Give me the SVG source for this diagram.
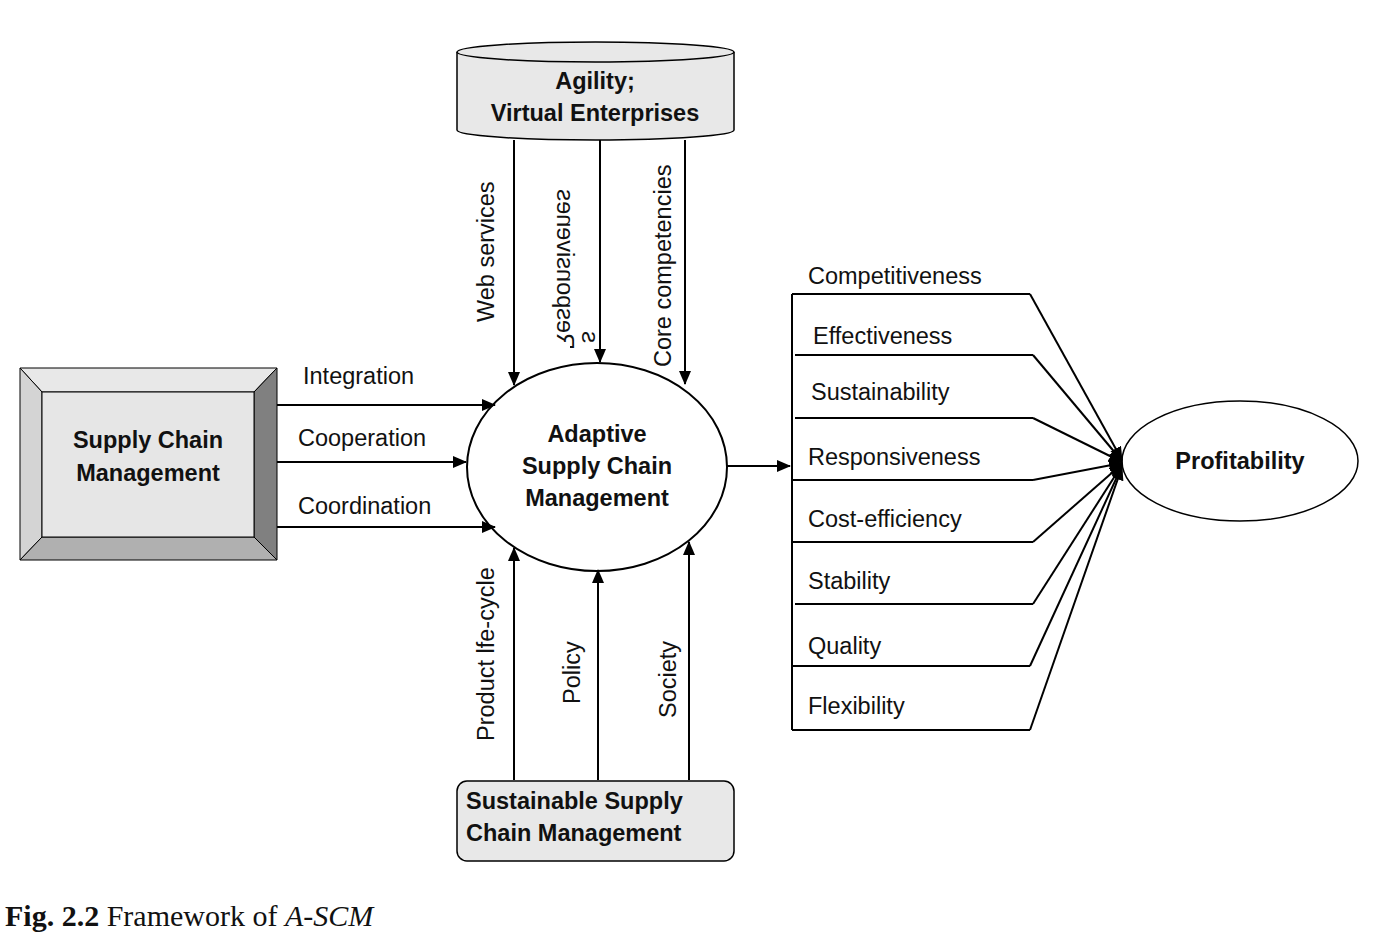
<svg xmlns="http://www.w3.org/2000/svg" width="1383" height="933" viewBox="0 0 1383 933">
<style>
text{font-family:"Liberation Sans",Arial,sans-serif;font-size:23.5px;fill:#111}
.b{font-weight:bold}
.ln{stroke:#000;stroke-width:2;fill:none}
</style>
<defs>
<marker id="a2" markerWidth="14" markerHeight="12" refX="13" refY="6" orient="auto" markerUnits="userSpaceOnUse"><path d="M0,0 L14,6 L0,12 Z" fill="#000"/></marker>
</defs>
<rect width="1383" height="933" fill="#fff"/>
<g id="scm">
<polygon points="20,368 277,368 254,392 42,392" fill="#e8e8e8" stroke="#000"/>
<polygon points="20,368 42,392 42,537 20,560" fill="#d4d4d4" stroke="#000"/>
<polygon points="277,368 254,392 254,537 277,560" fill="#808080" stroke="#000"/>
<polygon points="20,560 42,537 254,537 277,560" fill="#b0b0b0" stroke="#000"/>
<rect x="42" y="392" width="212" height="145" fill="#e6e6e6" stroke="#000"/>
<text class="b" x="148" y="448" text-anchor="middle">Supply Chain</text>
<text class="b" x="148" y="481" text-anchor="middle">Management</text>
</g>
<g id="agility">
<path d="M457,52 L457,130 A138,10 0 0 0 734,130 L734,52" fill="#e8e8e8" stroke="#000" stroke-width="1.5"/>
<ellipse cx="595.5" cy="52" rx="138.5" ry="10" fill="#e8e8e8" stroke="#000" stroke-width="1.5"/>
<text class="b" x="595" y="89" text-anchor="middle">Agility;</text>
<text class="b" x="595" y="121" text-anchor="middle">Virtual Enterprises</text>
</g>
<g id="ascm">
<ellipse cx="597" cy="467" rx="130" ry="104" fill="#fff" stroke="#000" stroke-width="2"/>
<text class="b" x="597" y="442" text-anchor="middle">Adaptive</text>
<text class="b" x="597" y="474" text-anchor="middle">Supply Chain</text>
<text class="b" x="597" y="506" text-anchor="middle">Management</text>
</g>
<g id="sscm">
<rect x="457" y="781" width="277" height="80" rx="10" fill="#e8e8e8" stroke="#000" stroke-width="1.5"/>
<text class="b" x="466" y="809">Sustainable Supply</text>
<text class="b" x="466" y="841">Chain Management</text>
</g>
<g id="profit">
<ellipse cx="1240" cy="461" rx="118" ry="60" fill="#fff" stroke="#000" stroke-width="1.5"/>
<text class="b" x="1240" y="469" text-anchor="middle">Profitability</text>
</g>
<g id="factors">
<path class="ln" d="M792,294 L792,730"/>
<path class="ln" d="M792,294 H1030 M795,355 H1033 M795,418 H1033 M792,480 H1033 M792,542 H1033 M795,604 H1033 M792,666 H1030 M792,730 H1030"/>
<text x="808" y="284">Competitiveness</text>
<text x="813" y="344">Effectiveness</text>
<text x="811" y="400">Sustainability</text>
<text x="808" y="465">Responsiveness</text>
<text x="808" y="527">Cost-efficiency</text>
<text x="808" y="589">Stability</text>
<text x="808" y="654">Quality</text>
<text x="808" y="714">Flexibility</text>
</g>
<g id="connectors">
<path class="ln" d="M277,405 H495" marker-end="url(#a2)"/>
<path class="ln" d="M277,462 H466" marker-end="url(#a2)"/>
<path class="ln" d="M277,527 H495" marker-end="url(#a2)"/>
<path class="ln" d="M514,140 V385" marker-end="url(#a2)"/>
<path class="ln" d="M600,140 V362" marker-end="url(#a2)"/>
<path class="ln" d="M685,140 V384" marker-end="url(#a2)"/>
<path class="ln" d="M514,780 V548" marker-end="url(#a2)"/>
<path class="ln" d="M598,780 V570" marker-end="url(#a2)"/>
<path class="ln" d="M689,780 V542" marker-end="url(#a2)"/>
<path class="ln" d="M727,466 H790" marker-end="url(#a2)"/>
<path class="ln" d="M1030,294 L1122,460" marker-end="url(#a2)"/>
<path class="ln" d="M1033,355 L1122,461" stroke-width="1.5" marker-end="url(#a2)"/>
<path class="ln" d="M1033,418 L1122,462" marker-end="url(#a2)"/>
<path class="ln" d="M1033,480 L1122,463" marker-end="url(#a2)"/>
<path class="ln" d="M1033,542 L1122,464" marker-end="url(#a2)"/>
<path class="ln" d="M1033,604 L1122,465" marker-end="url(#a2)"/>
<path class="ln" d="M1030,666 L1122,466" marker-end="url(#a2)"/>
<path class="ln" d="M1030,730 L1122,467" marker-end="url(#a2)"/>
</g>
<g id="labels">
<text transform="translate(494,322) rotate(-90)">Web services</text>
<text transform="translate(671,367) rotate(-90)">Core competencies</text>
<text transform="translate(494,741) rotate(-90)">Product lfe-cycle</text>
<text transform="translate(580,704) rotate(-90)">Policy</text>
<text transform="translate(676,718) rotate(-90)">Society</text>
<text transform="translate(557,350) rotate(-90) scale(1,-1)">Responsivenes</text>
<text transform="translate(582,343) rotate(-90) scale(1,-1)">s</text>
<text x="303" y="384">Integration</text>
<text x="298" y="446">Cooperation</text>
<text x="298" y="514">Coordination</text>
</g>
<rect x="540" y="145" width="50" height="30" fill="#fff"/>
<rect x="540" y="342" width="30" height="14" fill="#fff"/>
<g id="caption">
<text x="5" y="926" style="font-family:'Liberation Serif',serif;font-size:30px"><tspan font-weight="bold">Fig. 2.2</tspan> Framework of <tspan font-style="italic">A-SCM</tspan></text>
</g>
</svg>
